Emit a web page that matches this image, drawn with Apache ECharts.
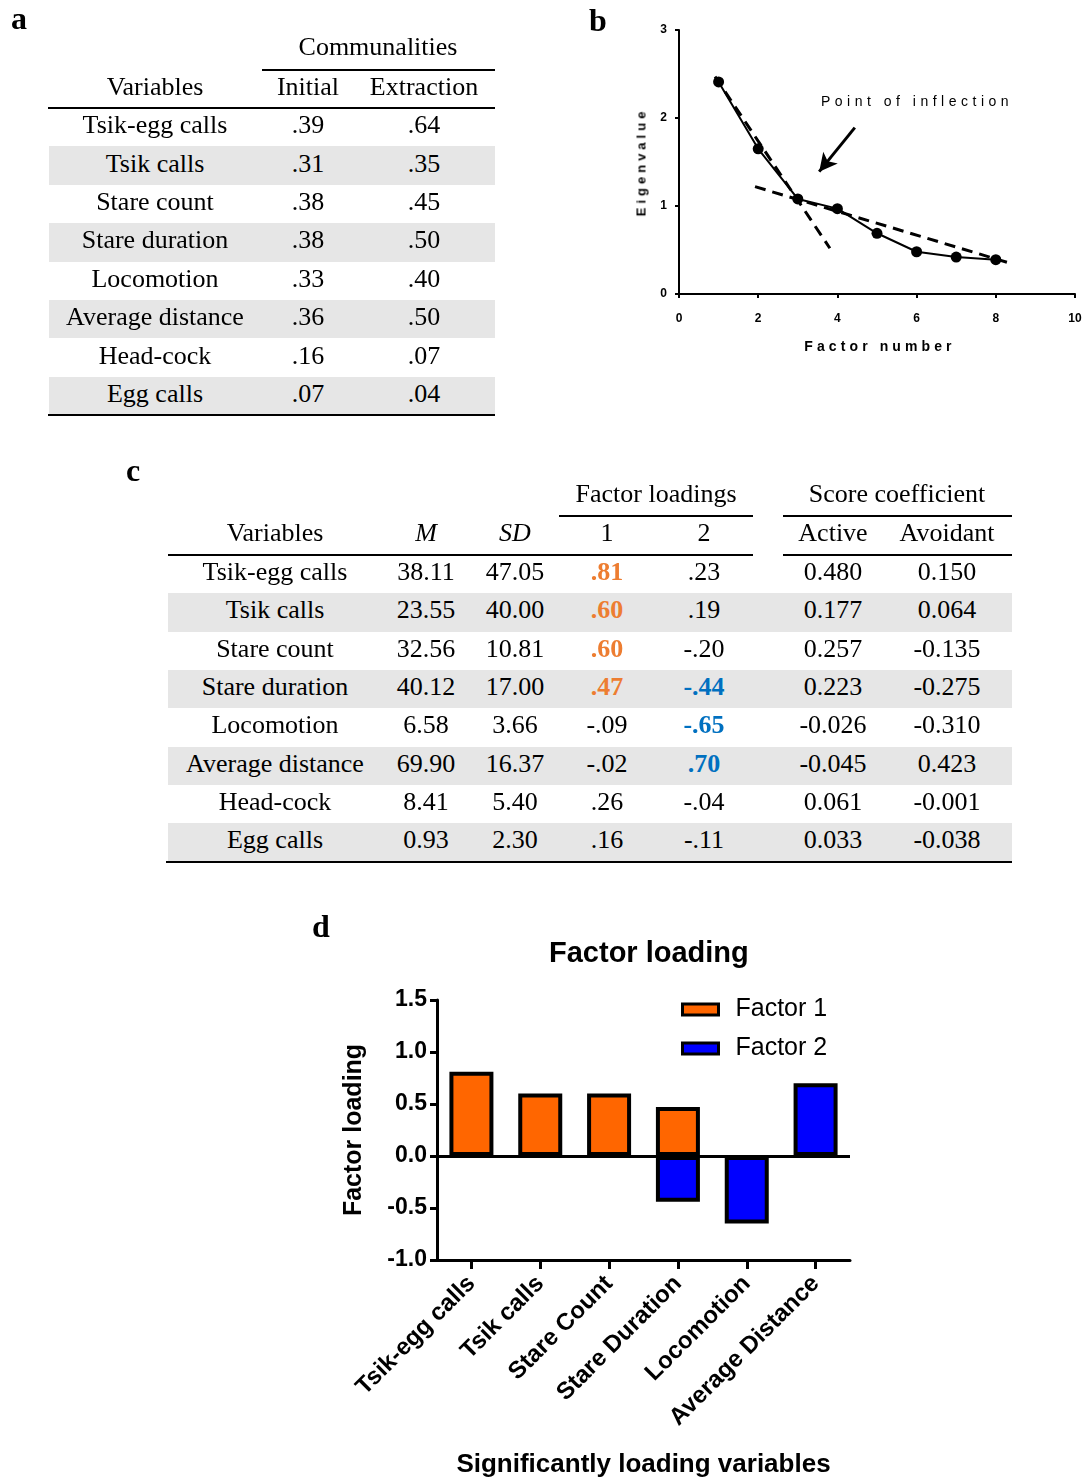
<!DOCTYPE html>
<html>
<head>
<meta charset="utf-8">
<script src="https://cdn.jsdelivr.net/npm/echarts@6/dist/echarts.min.js"></script>
<style>
  html, body { margin: 0; padding: 0; background: #fff; }
  #page { position: relative; width: 1086px; height: 1479px; }
  #chart { position: absolute; left: 0; top: 0; width: 1086px; height: 1479px; }
  .t { position: absolute; white-space: nowrap; transform: translate(-50%, -50%);
       font-family: "Liberation Serif", "Times New Roman", serif; font-size: 26px;
       color: #000; line-height: 1; z-index: 2; }
  .r { position: absolute; z-index: 1; }
</style>
</head>
<body>
<div id="page"><div id="chart"></div></div>
<script>
// ---- panel a: communalities
const commVars = ['Tsik-egg calls', 'Tsik calls', 'Stare count', 'Stare duration',
  'Locomotion', 'Average distance', 'Head-cock', 'Egg calls'];
const commInitial = ['.39', '.31', '.38', '.38', '.33', '.36', '.16', '.07'];
const commExtraction = ['.64', '.35', '.45', '.50', '.40', '.50', '.07', '.04'];

// ---- panel b: scree plot
const factorNumbers = [1, 2, 3, 4, 5, 6, 7, 8];
const eigenvalues = [2.41, 1.65, 1.08, 0.97, 0.69, 0.48, 0.42, 0.39];
const steepTangent = [[0.91, 2.47], [3.81, 0.52]];
const shallowTangent = [[1.92, 1.22], [8.36, 0.35]];
const arrowFrom = [4.44, 1.89];
const arrowTo = [3.54, 1.39];

// ---- panel c: descriptives, loadings, score coefficients
const descVars = commVars;
const means = ['38.11', '23.55', '32.56', '40.12', '6.58', '69.90', '8.41', '0.93'];
const sds = ['47.05', '40.00', '10.81', '17.00', '3.66', '16.37', '5.40', '2.30'];
const loading1 = ['.81', '.60', '.60', '.47', '-.09', '-.02', '.26', '.16'];
const loading2 = ['.23', '.19', '-.20', '-.44', '-.65', '.70', '-.04', '-.11'];
const loading1Sig = [true, true, true, true, false, false, false, false];
const loading2Sig = [false, false, false, true, true, true, false, false];
const scoreActive = ['0.480', '0.177', '0.257', '0.223', '-0.026', '-0.045', '0.061', '0.033'];
const scoreAvoidant = ['0.150', '0.064', '-0.135', '-0.275', '-0.310', '0.423', '-0.001', '-0.038'];

// ---- panel d: factor loading bars
const loadVars = ['Tsik-egg calls', 'Tsik calls', 'Stare Count', 'Stare Duration', 'Locomotion', 'Average Distance'];
const factor1 = [0.81, 0.60, 0.60, 0.47, null, null];
const factor2 = [null, null, null, -0.44, -0.65, 0.70];
const loadTicks = [-1, 1.5, 0.5];

const SANS = '"Liberation Sans", Arial, sans-serif';
const GREY = '#e6e6e6';
const ORANGE = '#ed7d31';
const BLUE = '#0070c0';

const page = document.getElementById('page');
function txt(x, y, s, css) {
  const d = document.createElement('div');
  d.className = 't';
  d.textContent = s;
  d.style.left = x + 'px';
  d.style.top = y + 'px';
  if (css) Object.assign(d.style, css);
  page.appendChild(d);
  return d;
}
function rect(x, y, w, h, c) {
  const d = document.createElement('div');
  d.className = 'r';
  Object.assign(d.style, {left: x + 'px', top: y + 'px', width: w + 'px', height: h + 'px', background: c});
  page.appendChild(d);
}
const panelLetter = {fontWeight: 'bold', fontSize: '32px'};

// table a
txt(19, 18, 'a', panelLetter);
const aRowH = 38.4, aTop = 108;
commVars.forEach((v, i) => {
  const y0 = aTop + i * aRowH;
  if (i % 2 === 1) rect(49, y0, 446, aRowH, GREY);
  const cy = y0 + aRowH / 2 - 2;
  txt(155, cy, v);
  txt(308, cy, commInitial[i]);
  txt(424, cy, commExtraction[i]);
});
txt(378, 47, 'Communalities');
txt(155, 87, 'Variables');
txt(308, 87, 'Initial');
txt(424, 87, 'Extraction');
rect(262, 69, 233, 2, '#000');
rect(48, 107, 447, 2, '#000');
rect(48, 414, 447, 2, '#000');

// table c
txt(133, 470, 'c', panelLetter);
const cRowH = 38.3, cTop = 555;
descVars.forEach((v, i) => {
  const y0 = cTop + i * cRowH;
  if (i % 2 === 1) rect(168, y0, 844, cRowH, GREY);
  const cy = y0 + cRowH / 2 - 2;
  txt(275, cy, v);
  txt(426, cy, means[i]);
  txt(515, cy, sds[i]);
  txt(607, cy, loading1[i], loading1Sig[i] ? {color: ORANGE, fontWeight: 'bold'} : null);
  txt(704, cy, loading2[i], loading2Sig[i] ? {color: BLUE, fontWeight: 'bold'} : null);
  txt(833, cy, scoreActive[i]);
  txt(947, cy, scoreAvoidant[i]);
});
txt(656, 494, 'Factor loadings');
txt(897, 494, 'Score coefficient');
txt(275, 533, 'Variables');
txt(426, 533, 'M', {fontStyle: 'italic'});
txt(515, 533, 'SD', {fontStyle: 'italic'});
txt(607, 533, '1');
txt(704, 533, '2');
txt(833, 533, 'Active');
txt(947, 533, 'Avoidant');
rect(559, 515, 194, 2, '#000');
rect(783, 515, 229, 2, '#000');
rect(168, 554, 585, 2, '#000');
rect(783, 554, 229, 2, '#000');
rect(166, 861, 846, 2, '#000');

// letters and letter-spaced labels for b and d
txt(598, 20, 'b', panelLetter);
txt(321, 926, 'd', panelLetter);
const spaced = {fontFamily: SANS, fontWeight: 'bold', fontSize: '13px', letterSpacing: '4px'};
txt(880, 346, 'Factor number', Object.assign({}, spaced, {fontSize: '14px', letterSpacing: '4.1px'}));
txt(641, 162, 'Eigenvalue', Object.assign({}, spaced, {transform: 'translate(-50%,-50%) rotate(-90deg)'}));
txt(917, 101, 'Point of inflection', {fontFamily: SANS, fontSize: '14px', letterSpacing: '4.5px'});

const chart = echarts.init(document.getElementById('chart'));
chart.setOption({
  animation: false,
  title: {
    text: 'Factor loading', left: 544, top: 934,
    textStyle: {fontFamily: SANS, fontSize: 29, fontWeight: 'bold', color: '#000'}
  },
  legend: {
    data: ['Factor 1', 'Factor 2'],
    left: 676, top: 992, orient: 'vertical',
    itemWidth: 36, itemHeight: 11, itemGap: 14,
    icon: 'rect',
    itemStyle: {borderColor: '#000', borderWidth: 3},
    textStyle: {fontFamily: SANS, fontSize: 25, color: '#000', padding: [0, 0, 0, 12]}
  },
  grid: [
    {left: 679, top: 30, width: 396, height: 264, outerBoundsMode: 'none'},
    {left: 437, top: 1000, width: 413, height: 260, outerBoundsMode: 'none'}
  ],
  xAxis: [
    {
      gridIndex: 0, type: 'value', min: 0, max: 10, interval: 2,
      axisLine: {show: true, onZero: false, lineStyle: {color: '#000', width: 2}},
      axisTick: {show: true, length: 4, lineStyle: {color: '#000', width: 2}},
      axisLabel: {fontFamily: SANS, fontSize: 12, fontWeight: 'bold', color: '#000', margin: 19,
        showMinLabel: true, showMaxLabel: true},
      splitLine: {show: false}
    },
    {
      gridIndex: 1, type: 'category', data: loadVars,
      axisLine: {show: true, onZero: false, lineStyle: {color: '#000', width: 3}},
      axisTick: {show: true, alignWithLabel: true, length: 9, lineStyle: {color: '#000', width: 3}},
      axisLabel: {rotate: 45, interval: 0, fontFamily: SANS, fontSize: 24, fontWeight: 'bold', color: '#000', margin: 20},
      name: 'Significantly loading variables', nameLocation: 'middle', nameGap: 192,
      nameTextStyle: {fontFamily: SANS, fontSize: 26, fontWeight: 'bold', color: '#000'}
    }
  ],
  yAxis: [
    {
      gridIndex: 0, type: 'value', min: 0, max: 3, interval: 1,
      axisLine: {show: true, lineStyle: {color: '#000', width: 2}},
      axisTick: {show: true, length: 4, lineStyle: {color: '#000', width: 2}},
      axisLabel: {fontFamily: SANS, fontSize: 12, fontWeight: 'bold', color: '#000', margin: 12,
        showMinLabel: true, showMaxLabel: true},
      splitLine: {show: false}
    },
    {
      gridIndex: 1, type: 'value', min: loadTicks[0], max: loadTicks[1], interval: loadTicks[2],
      axisLine: {show: true, lineStyle: {color: '#000', width: 3}},
      axisTick: {show: true, length: 7, lineStyle: {color: '#000', width: 3}},
      axisLabel: {fontFamily: SANS, fontSize: 23, fontWeight: 'bold', color: '#000', margin: 10,
        showMinLabel: true, showMaxLabel: true, formatter: v => v.toFixed(1)},
      splitLine: {show: false},
      name: 'Factor loading', nameLocation: 'middle', nameGap: 70, nameRotate: 90,
      nameTextStyle: {fontFamily: SANS, fontSize: 25, fontWeight: 'bold', color: '#000'}
    }
  ],
  series: [
    {
      type: 'line', xAxisIndex: 0, yAxisIndex: 0,
      data: factorNumbers.map((f, i) => [f, eigenvalues[i]]),
      symbol: 'circle', symbolSize: 11,
      itemStyle: {color: '#000'}, lineStyle: {color: '#000', width: 2}
    },
    {
      type: 'line', xAxisIndex: 0, yAxisIndex: 0, data: steepTangent, symbol: 'none',
      lineStyle: {color: '#000', width: 3, type: [11, 7]}
    },
    {
      type: 'line', xAxisIndex: 0, yAxisIndex: 0, data: shallowTangent, symbol: 'none',
      lineStyle: {color: '#000', width: 3, type: [11, 7]}
    },
    {
      type: 'line', xAxisIndex: 0, yAxisIndex: 0, data: [],
      markLine: {
        silent: true, symbol: ['none', 'arrow'], symbolSize: [14, 18],
        label: {show: false},
        lineStyle: {color: '#000', width: 3, type: 'solid'},
        data: [[{coord: arrowFrom}, {coord: arrowTo}]]
      }
    },
    {
      name: 'Factor 1', type: 'bar', xAxisIndex: 1, yAxisIndex: 1,
      data: factor1, barWidth: 44, barGap: '-100%',
      itemStyle: {color: '#ff6600', borderColor: '#000', borderWidth: 4},
      markLine: {
        silent: true, symbol: 'none', label: {show: false},
        lineStyle: {color: '#000', width: 3, type: 'solid'},
        data: [{yAxis: 0}]
      }
    },
    {
      name: 'Factor 2', type: 'bar', xAxisIndex: 1, yAxisIndex: 1,
      data: factor2, barWidth: 44, barGap: '-100%',
      itemStyle: {color: '#0000ff', borderColor: '#000', borderWidth: 4}
    }
  ]
});
</script>
</body>
</html>
